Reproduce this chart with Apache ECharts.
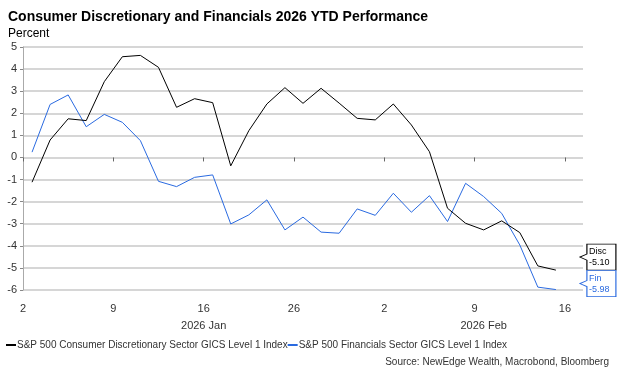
<!DOCTYPE html>
<html>
<head>
<meta charset="utf-8">
<script src="https://cdn.jsdelivr.net/npm/echarts@6/dist/echarts.min.js"></script>
<style>
  html, body { margin: 0; padding: 0; background: #fff; }
  #main { width: 625px; height: 375px; }
</style>
</head>
<body>
<div id="main"></div>
<script>
// trading days, 2026
var dates = [
  '01-02', '01-05', '01-06', '01-07', '01-08', '01-09',
  '01-12', '01-13', '01-14', '01-15', '01-16',
  '01-20', '01-21', '01-22', '01-23',
  '01-26', '01-27', '01-28', '01-29', '01-30',
  '02-02', '02-03', '02-04', '02-05', '02-06',
  '02-09', '02-10', '02-11', '02-12', '02-13'
];
var disc = [
  -1.12, 0.79, 1.75, 1.67, 3.43, 4.56,
  4.62, 4.08, 2.27, 2.66, 2.48,
  -0.38, 1.21, 2.42, 3.16,
  2.45, 3.13, 2.46, 1.77, 1.70,
  2.42, 1.47, 0.26, -2.30, -2.98,
  -3.28, -2.87, -3.40, -4.91, -5.10
];
var fin = [
  0.24, 2.40, 2.83, 1.39, 1.95, 1.59,
  0.76, -1.08, -1.32, -0.90, -0.79,
  -3.01, -2.60, -1.92, -3.28,
  -2.70, -3.38, -3.43, -2.33, -2.62,
  -1.62, -2.48, -1.73, -2.90, -1.17,
  -1.77, -2.53, -3.96, -5.87, -5.98
];
var tickIdx = [0, 5, 10, 15, 20, 25, 30];
var tickLabels = ['2', '9', '16', '26', '2', '9', '16'];
var monthNames = ['2026 Jan', '2026 Feb'];
var seriesNames = [
  'S&P 500 Consumer Discretionary Sector GICS Level 1 Index',
  'S&P 500 Financials Sector GICS Level 1 Index'
];
var endTags = ['Disc', 'Fin'];

var xMax = 31;
var font = 'Liberation Sans, Arial, sans-serif';

// month centres from first trading day of each month
var monthStart = [];
dates.forEach(function (d, i) {
  if (i === 0 || d.slice(0, 2) !== dates[i - 1].slice(0, 2)) monthStart.push(i);
});
var monthMid = monthStart.map(function (s, k) {
  var e = k + 1 < monthStart.length ? monthStart[k + 1] : xMax;
  return (s + e) / 2;
});

function toPoints(arr) {
  return arr.map(function (v, i) { return [i + 0.5, v]; });
}

var calloutPath = 'path://M7,0 L36,0 L36,26 L7,26 L7,16 L0,13 L7,10 Z';

function endMark(arr, tag, color, dy) {
  var last = arr.length - 1;
  return {
    silent: true,
    symbol: calloutPath,
    symbolSize: [36, 26],
    symbolKeepAspect: false,
    symbolOffset: [42, dy],
    itemStyle: { color: '#fff', borderColor: color, borderWidth: 1 },
    label: {
      show: true,
      position: 'inside',
      offset: [-9, 0],
      align: 'left',
      color: color,
      fontFamily: font,
      fontSize: 9,
      lineHeight: 11,
      formatter: tag + '\n' + arr[last].toFixed(2)
    },
    data: [{ coord: [last + 0.5, arr[last]] }]
  };
}

var chart = echarts.init(document.getElementById('main'));

var option = {
  backgroundColor: '#fff',
  animation: false,
  title: [
    {
      text: 'Consumer Discretionary and Financials 2026 YTD Performance',
      left: 3, top: 5,
      textStyle: { fontFamily: font, fontSize: 14, fontWeight: 'bold', color: '#000' }
    },
    {
      text: 'Percent',
      left: 3, top: 23,
      textStyle: { fontFamily: font, fontSize: 12, fontWeight: 'normal', color: '#000' }
    },
    {
      text: 'Source: NewEdge Wealth, Macrobond, Bloomberg',
      right: 11, top: 352,
      textStyle: { fontFamily: font, fontSize: 10, fontWeight: 'normal', color: '#333' }
    }
  ],
  legend: {
    left: 1, top: 335,
    itemWidth: 10, itemHeight: 2, itemGap: 0,
    icon: 'rect',
    textStyle: { fontFamily: font, fontSize: 10, color: '#333', padding: [0, 0, 0, -4] },
    data: seriesNames
  },
  grid: { left: 23, right: 42, top: 47, bottom: 85 },
  xAxis: [
    {
      type: 'value',
      min: 0, max: xMax,
      offset: 5,
      axisLine: { show: false },
      axisTick: { show: true, length: 4, customValues: tickIdx, lineStyle: { color: '#666' } },
      splitLine: { show: false },
      axisLabel: {
        customValues: tickIdx,
        margin: 8,
        fontFamily: font, fontSize: 11, color: '#333',
        formatter: function (v) { return tickLabels[tickIdx.indexOf(Math.round(v))] || ''; }
      }
    },
    {
      type: 'value',
      position: 'bottom',
      min: 0, max: xMax,
      offset: 5,
      axisLine: { show: false },
      axisTick: { show: false },
      splitLine: { show: false },
      axisLabel: {
        customValues: monthMid,
        margin: 25,
        fontFamily: font, fontSize: 11, color: '#333',
        formatter: function (v) {
          var k = monthMid.indexOf(v);
          return k >= 0 ? monthNames[k] : '';
        }
      }
    }
  ],
  yAxis: {
    type: 'value',
    min: -6, max: 5, interval: 1,
    axisLine: { show: true, lineStyle: { color: '#aaa' } },
    axisTick: { show: true, length: 3, lineStyle: { color: '#888' } },
    splitLine: { show: true, lineStyle: { color: '#d6d6d6', width: 2 } },
    axisLabel: { margin: 6, fontFamily: font, fontSize: 11, color: '#333' }
  },
  series: [
    {
      name: seriesNames[0],
      type: 'line',
      data: toPoints(disc),
      symbol: 'none',
      color: '#000',
      lineStyle: { color: '#000', width: 1 },
      z: 3,
      markPoint: endMark(disc, endTags[0], '#000', -13)
    },
    {
      name: seriesNames[1],
      type: 'line',
      data: toPoints(fin),
      symbol: 'none',
      color: '#2a6ae0',
      lineStyle: { color: '#2a6ae0', width: 1 },
      z: 2,
      markPoint: endMark(fin, endTags[1], '#2a6ae0', -6)
    }
  ]
};

chart.setOption(option);
</script>
</body>
</html>
